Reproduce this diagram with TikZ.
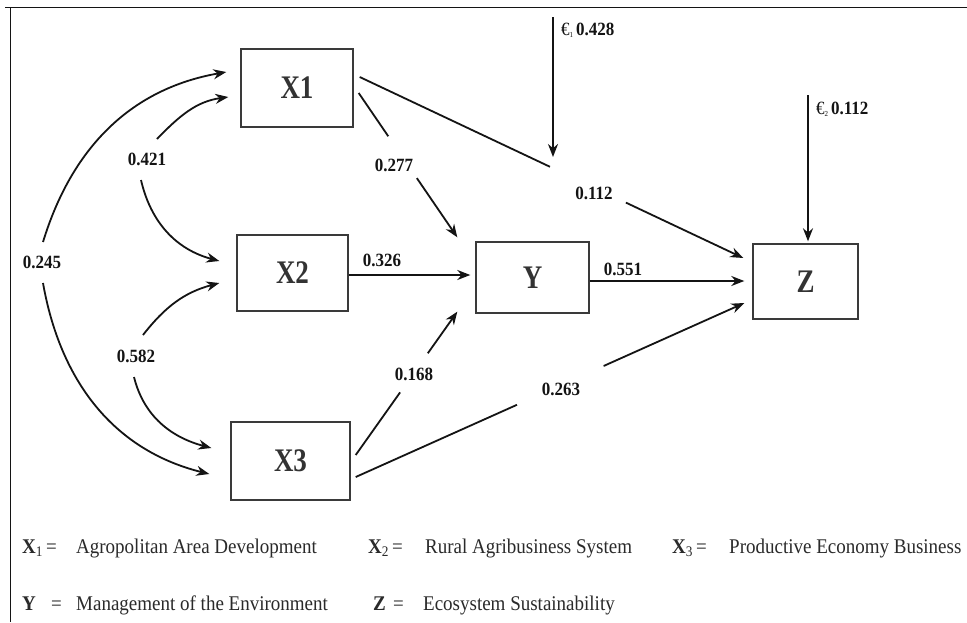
\documentclass[tikz,border=0pt]{standalone}
\usepackage{fontspec}
\setmainfont{Liberation Serif}
\usetikzlibrary{arrows.meta,calc}
\definecolor{ink}{HTML}{141414}
\definecolor{boxc}{HTML}{3A3A3A}
\definecolor{lbl}{HTML}{333333}
\definecolor{legc}{HTML}{2A2A2A}
\newcommand{\tallA}[1]{\scalebox{1}[1.22]{#1}}
\newcommand{\tallB}[1]{\scalebox{1}[1.1]{#1}}
\begin{document}
\begin{tikzpicture}[x=1pt,y=-1pt,
  box/.style={draw=boxc, line width=1.4pt, fill=white, font=\fontsize{27}{27}\selectfont\bfseries, text=lbl},
  ln/.style={line width=1.8pt, draw=ink},
  arr/.style={line width=1.8pt, draw=ink, -{Stealth[length=13pt,width=10pt]}},
  num/.style={font=\fontsize{17}{17}\selectfont\bfseries, text=ink, inner sep=0pt},
  legb/.style={font=\fontsize{19}{19}\selectfont\bfseries, anchor=base west, inner sep=0pt, text=legc},
  leg/.style={font=\fontsize{19}{19}\selectfont, anchor=base west, inner sep=0pt, text=legc}
]
\useasboundingbox (0,0) rectangle (967,622);
\fill[white] (0,0) rectangle (967,622);
% frame
\draw[line width=1pt, draw=ink] (5,7) -- (967,7);
\draw[line width=1pt, draw=ink] (10,7) -- (10,622);

% boxes
\node[box, minimum width=112pt, minimum height=78pt] (X1) at (297,88) {\tallA{X1}};
\node[box, minimum width=111pt, minimum height=76pt] (X2) at (292.5,273) {\tallA{X2}};
\node[box, minimum width=119pt, minimum height=78pt] (X3) at (290.5,461) {\tallA{X3}};
\node[box, minimum width=113pt, minimum height=71pt] (Y) at (532.5,277.5) {\tallA{Y}};
\node[box, minimum width=105pt, minimum height=75pt] (Z) at (805.5,281.5) {\tallA{Z}};

% X1 -> Z
\coordinate (x1z) at ($(X1.east)+(6,-11)$);
\coordinate (zx1) at ($(Z.west)+(-9,-23.5)$);
\draw[ln] (x1z) -- ($(x1z)!0.496!(zx1)$);
\draw[arr] ($(x1z)!0.694!(zx1)$) -- (zx1);
\node[num] (l112) at (594,193) {\tallB{0.112}};

% X1 -> Y
\coordinate (x1y) at ($(X1.east)+(5,5)$);
\coordinate (yx1) at ($(Y.north west)+(-18,-4)$);
\draw[ln] (x1y) -- ($(x1y)!0.30!(yx1)$);
\draw[arr] ($(x1y)!0.59!(yx1)$) -- (yx1);
\node[num] (l277) at (394,165) {\tallB{0.277}};

% X2 -> Y
\draw[arr] ($(X2.east)+(0,2)$) -- ($(Y.west)+(-5,-2.5)$);
\node[num] (l326) at (382,260) {\tallB{0.326}};

% Y -> Z
\draw[arr] ($(Y.east)+(0,3.5)$) -- ($(Z.west)+(-8,-0.5)$);
\node[num] (l551) at (623,269) {\tallB{0.551}};

% X3 -> Y
\coordinate (x3y) at ($(X3.east)+(5,-6)$);
\coordinate (yx3) at ($(Y.south west)+(-18,-2)$);
\draw[ln] (x3y) -- ($(x3y)!0.437!(yx3)$);
\draw[arr] ($(x3y)!0.71!(yx3)$) -- (yx3);
\node[num] (l168) at (414,374) {\tallB{0.168}};

% X3 -> Z
\coordinate (x3z) at ($(X3.east)+(5,16)$);
\coordinate (zx3) at ($(Z.west)+(-8,21.5)$);
\draw[ln] (x3z) -- ($(x3z)!0.415!(zx3)$);
\draw[arr] ($(x3z)!0.638!(zx3)$) -- (zx3);
\node[num] (l263) at (561,389) {\tallB{0.263}};

% error terms
\coordinate (e1top) at (553,17);
\coordinate (e1tip) at (553,157);
\draw[arr] (e1top) -- (e1tip);
\node[num, anchor=west] (e1) at (561,30) {\tallB{\mdseries €\raisebox{-2pt}{\fontsize{7}{7}\selectfont 1}\,\bfseries 0.428}};
\coordinate (e2top) at (808,95);
\draw[arr] (e2top) -- ($(Z.north)+(2.5,-2)$);
\node[num, anchor=west] (e2) at (816,109) {\tallB{\mdseries €\raisebox{-2pt}{\fontsize{7}{7}\selectfont 2}\,\bfseries 0.112}};

% covariances
\node[num] (L245) at (42,262) {\tallB{0.245}};
\node[num] (L421) at (147,159) {\tallB{0.421}};
\node[num] (L582) at (136,356) {\tallB{0.582}};
\draw[arr] ($(L245)+(1,-20)$) to[out=73,in=190] ($(X1.west)+(-14,-16)$);
\draw[arr] ($(L245)+(1,21)$) to[out=-80,in=166] ($(X3.west)+(-21,13)$);
\draw[arr] ($(L421)+(10,-20)$) to[out=46,in=188] ($(X1.west)+(-12,9)$);
\draw[arr] ($(L421)+(-6,21)$) to[out=-77,in=165] ($(X2.west)+(-17,-12)$);
\draw[arr] ($(L582)+(7,-21)$) to[out=52,in=195] ($(X2.west)+(-17,10)$);
\draw[arr] ($(L582)+(-2,21)$) to[out=-76,in=165] ($(X3.west)+(-19,-13)$);

% legend
\node[legb] (k1) at (22,553) {\tallB{X\textsubscript{\mdseries 1}}};
\node[leg] (k1e) at (46,553) {\tallB{=}};
\node[leg] (k1t) at (76,553) {\tallB{Agropolitan Area Development}};
\node[legb] (k2) at (368,553) {\tallB{X\textsubscript{\mdseries 2}}};
\node[leg] (k2e) at (392,553) {\tallB{=}};
\node[leg] (k2t) at (425,553) {\tallB{Rural Agribusiness System}};
\node[legb] (k3) at (672,553) {\tallB{X\textsubscript{\mdseries 3}}};
\node[leg] (k3e) at (696,553) {\tallB{=}};
\node[leg] (k3t) at (729,553) {\tallB{Productive Economy Business}};
\node[legb] (k4) at (22,610) {\tallB{Y}};
\node[leg] (k4e) at (51,610) {\tallB{=}};
\node[leg] (k4t) at (76,610) {\tallB{Management of the Environment}};
\node[legb] (k5) at (373,610) {\tallB{Z}};
\node[leg] (k5e) at (393,610) {\tallB{=}};
\node[leg] (k5t) at (423,610) {\tallB{Ecosystem Sustainability}};
\end{tikzpicture}
\end{document}
